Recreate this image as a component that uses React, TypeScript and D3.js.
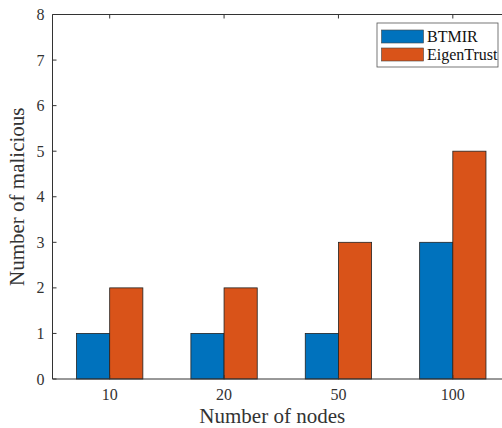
import React, { useEffect, useRef } from 'react';
import * as d3 from 'd3';

// chart data
const categories = ['10', '20', '50', '100'];
const btmir = [1, 1, 1, 3];
const eigenTrust = [2, 2, 3, 5];
const seriesNames = ['BTMIR', 'EigenTrust'];
const seriesColors = ['#0072BD', '#D95319'];
const yTicks = [0, 1, 2, 3, 4, 5, 6, 7, 8];

const App = () => {
  const ref = useRef<SVGSVGElement>(null);

  useEffect(() => {
    const width = 502;
    const height = 428;
    const margin = { top: 14.5, right: -8, bottom: 49, left: 52.5 };
    const font = '"Liberation Serif", "Times New Roman", serif';

    const svg = d3.select(ref.current);
    svg.selectAll('*').remove();

    const innerW = width - margin.left - margin.right;
    const innerH = height - margin.top - margin.bottom;

    // MATLAB-style: categories at 1..4, axis from 0.5 to 4.5
    const x = d3.scaleLinear().domain([0.5, categories.length + 0.5]).range([0, innerW]);
    const y = d3.scaleLinear().domain([0, 8]).range([innerH, 0]);

    const g = svg.append('g').attr('transform', `translate(${margin.left},${margin.top})`);

    const series = [btmir, eigenTrust];
    const barW = 0.29;

    series.forEach((vals, si) => {
      g.selectAll(`rect.s${si}`)
        .data(vals)
        .enter().append('rect')
        .attr('x', (d, i) => x(i + 1 + (si - 1) * barW))
        .attr('width', x(barW) - x(0))
        .attr('y', d => y(d))
        .attr('height', d => y(0) - y(d))
        .attr('fill', seriesColors[si])
        .attr('stroke', '#222')
        .attr('stroke-width', 0.8);
    });

    // axis box
    const axisColor = '#333';
    g.append('line').attr('x1', 0).attr('x2', innerW).attr('y1', innerH).attr('y2', innerH).attr('stroke', axisColor);
    g.append('line').attr('x1', 0).attr('x2', innerW).attr('y1', 0).attr('y2', 0).attr('stroke', axisColor);
    g.append('line').attr('x1', 0).attr('x2', 0).attr('y1', 0).attr('y2', innerH).attr('stroke', axisColor);

    // y ticks (inward) and labels
    yTicks.forEach(t => {
      g.append('line').attr('x1', 0).attr('x2', 4).attr('y1', y(t)).attr('y2', y(t)).attr('stroke', axisColor);
      g.append('text')
        .attr('x', -8).attr('y', y(t)).attr('dy', '0.35em')
        .attr('text-anchor', 'end')
        .style('font-family', font).style('font-size', '16px').attr('fill', '#333')
        .text(t);
    });

    // x ticks (inward, top and bottom) and labels
    categories.forEach((c, i) => {
      const cx = x(i + 1);
      g.append('line').attr('x1', cx).attr('x2', cx).attr('y1', innerH).attr('y2', innerH - 4).attr('stroke', axisColor);
      g.append('line').attr('x1', cx).attr('x2', cx).attr('y1', 0).attr('y2', 4).attr('stroke', axisColor);
      g.append('text')
        .attr('x', cx).attr('y', innerH + 21)
        .attr('text-anchor', 'middle')
        .style('font-family', font).style('font-size', '16px').attr('fill', '#333')
        .text(c);
    });

    // axis labels
    g.append('text')
      .attr('x', x(2.5) - 9).attr('y', innerH + 44)
      .attr('text-anchor', 'middle')
      .style('font-family', font).style('font-size', '21px').attr('fill', '#333')
      .text('Number of nodes');
    g.append('text')
      .attr('transform', `translate(${-29},${innerH / 2}) rotate(-90)`)
      .attr('text-anchor', 'middle')
      .style('font-family', font).style('font-size', '21px').attr('fill', '#333')
      .text('Number of malicious');

    // legend
    const lg = svg.append('g').attr('transform', 'translate(377,23)');
    lg.append('rect').attr('width', 121).attr('height', 44).attr('fill', 'white').attr('stroke', '#555').attr('stroke-width', 0.8);
    seriesNames.forEach((name, i) => {
      lg.append('rect')
        .attr('x', 4.5).attr('y', 7 + i * 18).attr('width', 42).attr('height', 13)
        .attr('fill', seriesColors[i]).attr('stroke', '#444').attr('stroke-width', 0.6);
      lg.append('text')
        .attr('x', 50).attr('y', 13.5 + i * 18).attr('dy', '0.35em')
        .style('font-family', font).style('font-size', '16px').attr('fill', '#111')
        .text(name);
    });
  }, []);

  return <svg ref={ref} width={502} height={428} style={{ position: 'absolute', left: 0, top: 0, background: 'white' }} />;
};

export default App;
